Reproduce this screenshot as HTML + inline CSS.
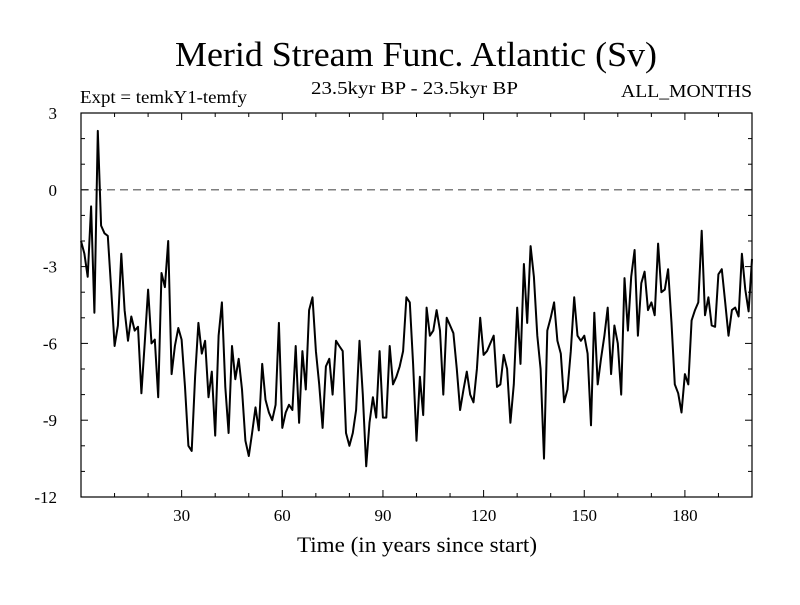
<!DOCTYPE html>
<html><head><meta charset="utf-8"><style>
body{margin:0;background:#fff}
svg text{font-family:"Liberation Serif",serif;fill:#000}
</style></head><body>
<svg id="chart" width="800" height="600" xmlns="http://www.w3.org/2000/svg">
<text x="175" y="66" font-size="35" textLength="482" lengthAdjust="spacingAndGlyphs">Merid Stream Func. Atlantic (Sv)</text>
<text x="311" y="94" font-size="18" textLength="207" lengthAdjust="spacingAndGlyphs">23.5kyr BP - 23.5kyr BP</text>
<text x="80" y="103" font-size="18" textLength="167" lengthAdjust="spacingAndGlyphs">Expt = temkY1-temfy</text>
<text x="621" y="97" font-size="18" textLength="131" lengthAdjust="spacingAndGlyphs">ALL_MONTHS</text>
<text x="297" y="552" font-size="22" textLength="240" lengthAdjust="spacingAndGlyphs">Time (in years since start)</text>
<g id="axes"></g>
<g id="series"></g>
</svg>
<script>
const yearsStart = 0;
const values = [-2.0,-2.5,-3.4,-0.65,-4.8,2.3,-1.4,-1.7,-1.8,-3.9,-6.1,-5.3,-2.5,-4.7,-5.9,-4.95,-5.5,-5.35,-7.95,-6.0,-3.9,-6.0,-5.85,-8.1,-3.25,-3.8,-2.0,-7.2,-6.1,-5.4,-5.85,-7.7,-10.0,-10.2,-7.3,
-5.2,-6.4,-5.9,-8.1,-7.1,-9.6,-5.7,-4.4,-7.7,-9.5,-6.1,-7.4,-6.6,-7.8,-9.8,-10.4,-9.5,-8.5,-9.4,-6.8,-8.2,-8.7,-9.0,-8.4,-5.2,-9.3,-8.7,-8.4,-8.6,-6.1,-9.1,-6.3,-7.8,-4.7,-4.2,-6.3,-7.6,-9.3,-6.9,-6.6,-8.0,-5.9,-6.1,
-6.3,-9.5,-10.0,-9.5,-8.6,-5.9,-8.0,-10.8,-9.1,-8.1,-8.9,-6.3,-8.9,-8.9,-6.1,-7.6,-7.3,-6.9,-6.3,-4.2,-4.4,-6.8,-9.8,-7.3,-8.8,-4.6,-5.7,-5.5,-4.7,-5.5,-8.0,-5.0,-5.3,-5.6,-7.0,-8.6,-7.8,-7.1,-8.0,-8.3,-7.0,-5.0,
-6.45,-6.3,-6.0,-5.7,-7.7,-7.6,-6.45,-7.0,-9.1,-7.6,-4.6,-6.8,-2.9,-5.2,-2.2,-3.4,-5.7,-7.0,-10.5,-5.5,-5.0,-4.4,-5.9,-6.4,-8.3,-7.8,-6.3,-4.2,-5.7,-5.9,-5.7,-6.4,-9.2,-4.8,-7.6,-6.6,-5.7,-4.6,-7.2,-5.3,-6.0,-8.0,
-3.45,-5.5,-3.4,-2.35,-5.7,-3.65,-3.2,-4.7,-4.4,-4.9,-2.1,-4.0,-3.9,-3.1,-5.2,-7.6,-7.95,-8.7,-7.2,-7.6,-5.1,-4.7,-4.4,-1.6,-4.9,-4.2,-5.3,-5.35,-3.3,-3.1,-4.4,-5.7,-4.7,-4.6,-4.95,-2.5,-3.9,-4.75,-2.7];
const xTicks = [30,60,90,120,150,180];
const yTicks = [3,0,-3,-6,-9,-12];
const NS="http://www.w3.org/2000/svg";
const L=81,R=752,T=113,B=497,X0=0,X1=200,Y0=-12,Y1=3;
const sx=v=>L+(v-X0)/(X1-X0)*(R-L);
const sy=v=>B-(v-Y0)/(Y1-Y0)*(B-T);
const axes=document.getElementById('axes'), ser=document.getElementById('series');
function mk(tag,attrs,parent){const e=document.createElementNS(NS,tag);for(const k in attrs)e.setAttribute(k,attrs[k]);parent.appendChild(e);return e;}
const frame=mk('rect',{x:L,y:T,width:R-L,height:B-T,fill:'none',stroke:'#000','stroke-width':1.2},axes);


const zl=mk('line',{x1:L,x2:R,y1:sy(0),y2:sy(0),stroke:'#555','stroke-width':1.2,'stroke-dasharray':'8,5'},axes);


for(let v=10;v<X1;v+=10){const major=v%30===0;const len=major?7:4;
 mk('line',{x1:sx(v),x2:sx(v),y1:B,y2:B-len,stroke:'#000'},axes);
 mk('line',{x1:sx(v),x2:sx(v),y1:T,y2:T+len,stroke:'#000'},axes);}
for(let v=Y0+1;v<Y1;v++){const major=v%3===0;const len=major?7:4;
 mk('line',{x1:L,x2:L+len,y1:sy(v),y2:sy(v),stroke:'#000'},axes);
 mk('line',{x1:R,x2:R-len,y1:sy(v),y2:sy(v),stroke:'#000'},axes);}
xTicks.forEach(v=>{const t=mk('text',{x:sx(v),y:B+24,'font-size':17,'text-anchor':'middle'},axes);t.textContent=v;
 
 });
yTicks.forEach(v=>{const t=mk('text',{x:L-24,y:sy(v)+6,'font-size':17,'text-anchor':'end'},axes);t.textContent=v;
 
 });
const pts=values.map((v,i)=>sx(yearsStart+i).toFixed(1)+','+sy(v).toFixed(1)).join(' ');
const pl=mk('polyline',{points:pts,fill:'none',stroke:'#000','stroke-width':2,'stroke-linejoin':'round'},ser);


</script>
</body></html>
